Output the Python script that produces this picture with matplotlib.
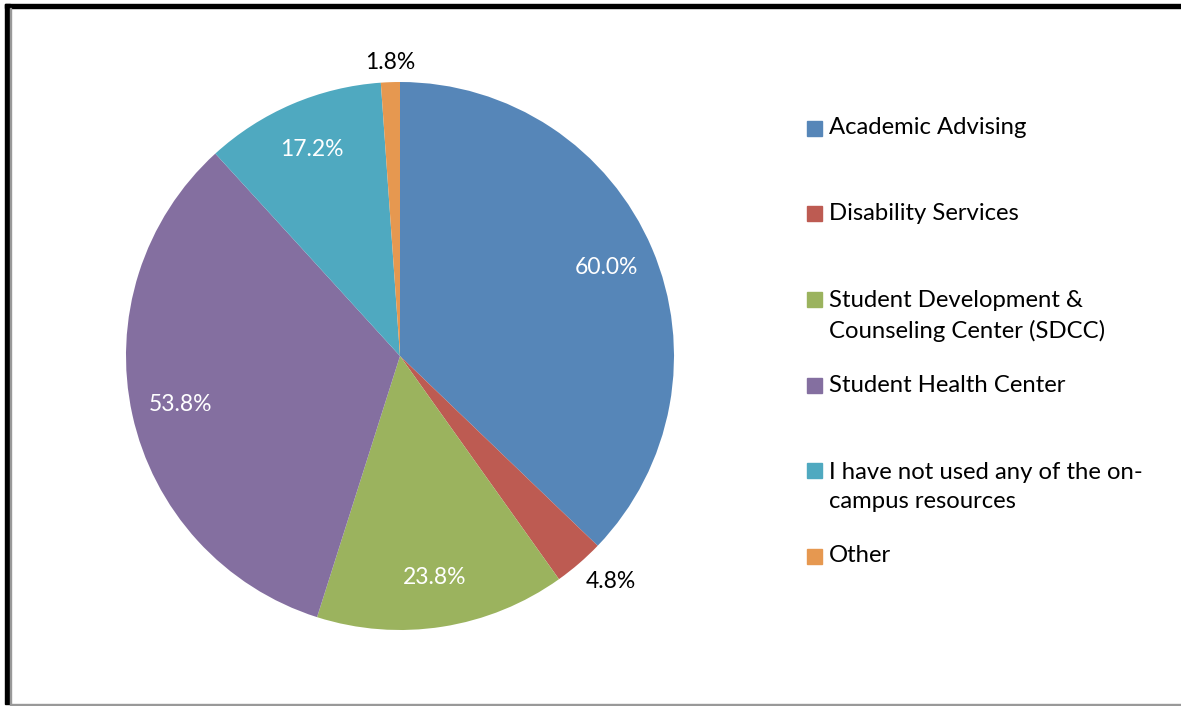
import matplotlib.pyplot as plt
from matplotlib.patches import Rectangle
import numpy as np

plt.rcParams['font.family'] = ['Lato', 'DejaVu Sans']

categories = ['Academic Advising', 'Disability Services',
              'Student Development &\nCounseling Center (SDCC)',
              'Student Health Center',
              'I have not used any of the on-\ncampus resources', 'Other']
values = [60.0, 4.8, 23.8, 53.8, 17.2, 1.8]
colors = ['#5686B8', '#BD5B52', '#9BB35E', '#846FA0', '#4FA9C0', '#E69850']

W, H = 1181, 706
fig = plt.figure(figsize=(W / 100, H / 100), dpi=100)

# pie axes: centre (400, 356) px, radius 274 px
cx, cy, r = 400, 356, 274
ax = fig.add_axes([(cx - r) / W, (H - cy - r) / H, 2 * r / W, 2 * r / H])
wedges, _ = ax.pie(values, colors=colors, startangle=90, counterclock=False,
                   radius=1, wedgeprops=dict(linewidth=0))
ax.set_xlim(-1, 1)
ax.set_ylim(-1, 1)
ax.set_aspect('equal')
ax.axis('off')

# data labels: inside (white) for big slices, outside (black) for small ones
for w, v in zip(wedges, values):
    ang = np.deg2rad((w.theta1 + w.theta2) / 2)
    c, s = np.cos(ang), np.sin(ang)
    if v > 10:
        ax.text(0.82 * c, 0.82 * s, f'{v:.1f}%', ha='center', va='center',
                fontsize=16.5, color='white')
    else:
        ha = 'left' if c > 0.2 else ('right' if c < -0.2 else 'center')
        va = 'bottom' if s > 0.2 else ('top' if s < -0.2 else 'center')
        ax.text(1.035 * c, 1.035 * s, f'{v:.1f}%', ha=ha, va=va,
                fontsize=16.5, color='black', clip_on=False)

# legend drawn by hand to follow the uneven spacing of the original
legend_y = [128, 213, 316, 385, 487, 556]
for lab, col, y in zip(categories, colors, legend_y):
    nlines = lab.count('\n') + 1
    top = y - (nlines - 1) * 17
    fig.patches.append(Rectangle((807 / W, 1 - (top + 7.5) / H), 15 / W, 15 / H,
                                 transform=fig.transFigure, color=col))
    fig.text(829 / W, 1 - y / H, lab, ha='left', va='center', fontsize=17.2,
             linespacing=1.45)

# frame around the picture
fig.patches.append(Rectangle((5 / W, 1 - 8 / H), 1, 4 / H,
                             transform=fig.transFigure, color='black'))
fig.patches.append(Rectangle((5 / W, 1 - 704 / H), 5 / W, 700 / H,
                             transform=fig.transFigure, color='black'))
fig.patches.append(Rectangle((10 / W, 1 - 704 / H), 1 / W, 696 / H,
                             transform=fig.transFigure, color='#999999'))
fig.patches.append(Rectangle((10 / W, 1 - 705 / H), 1, 1.5 / H,
                             transform=fig.transFigure, color='#999999'))

fig.savefig('out.png', dpi=100)
